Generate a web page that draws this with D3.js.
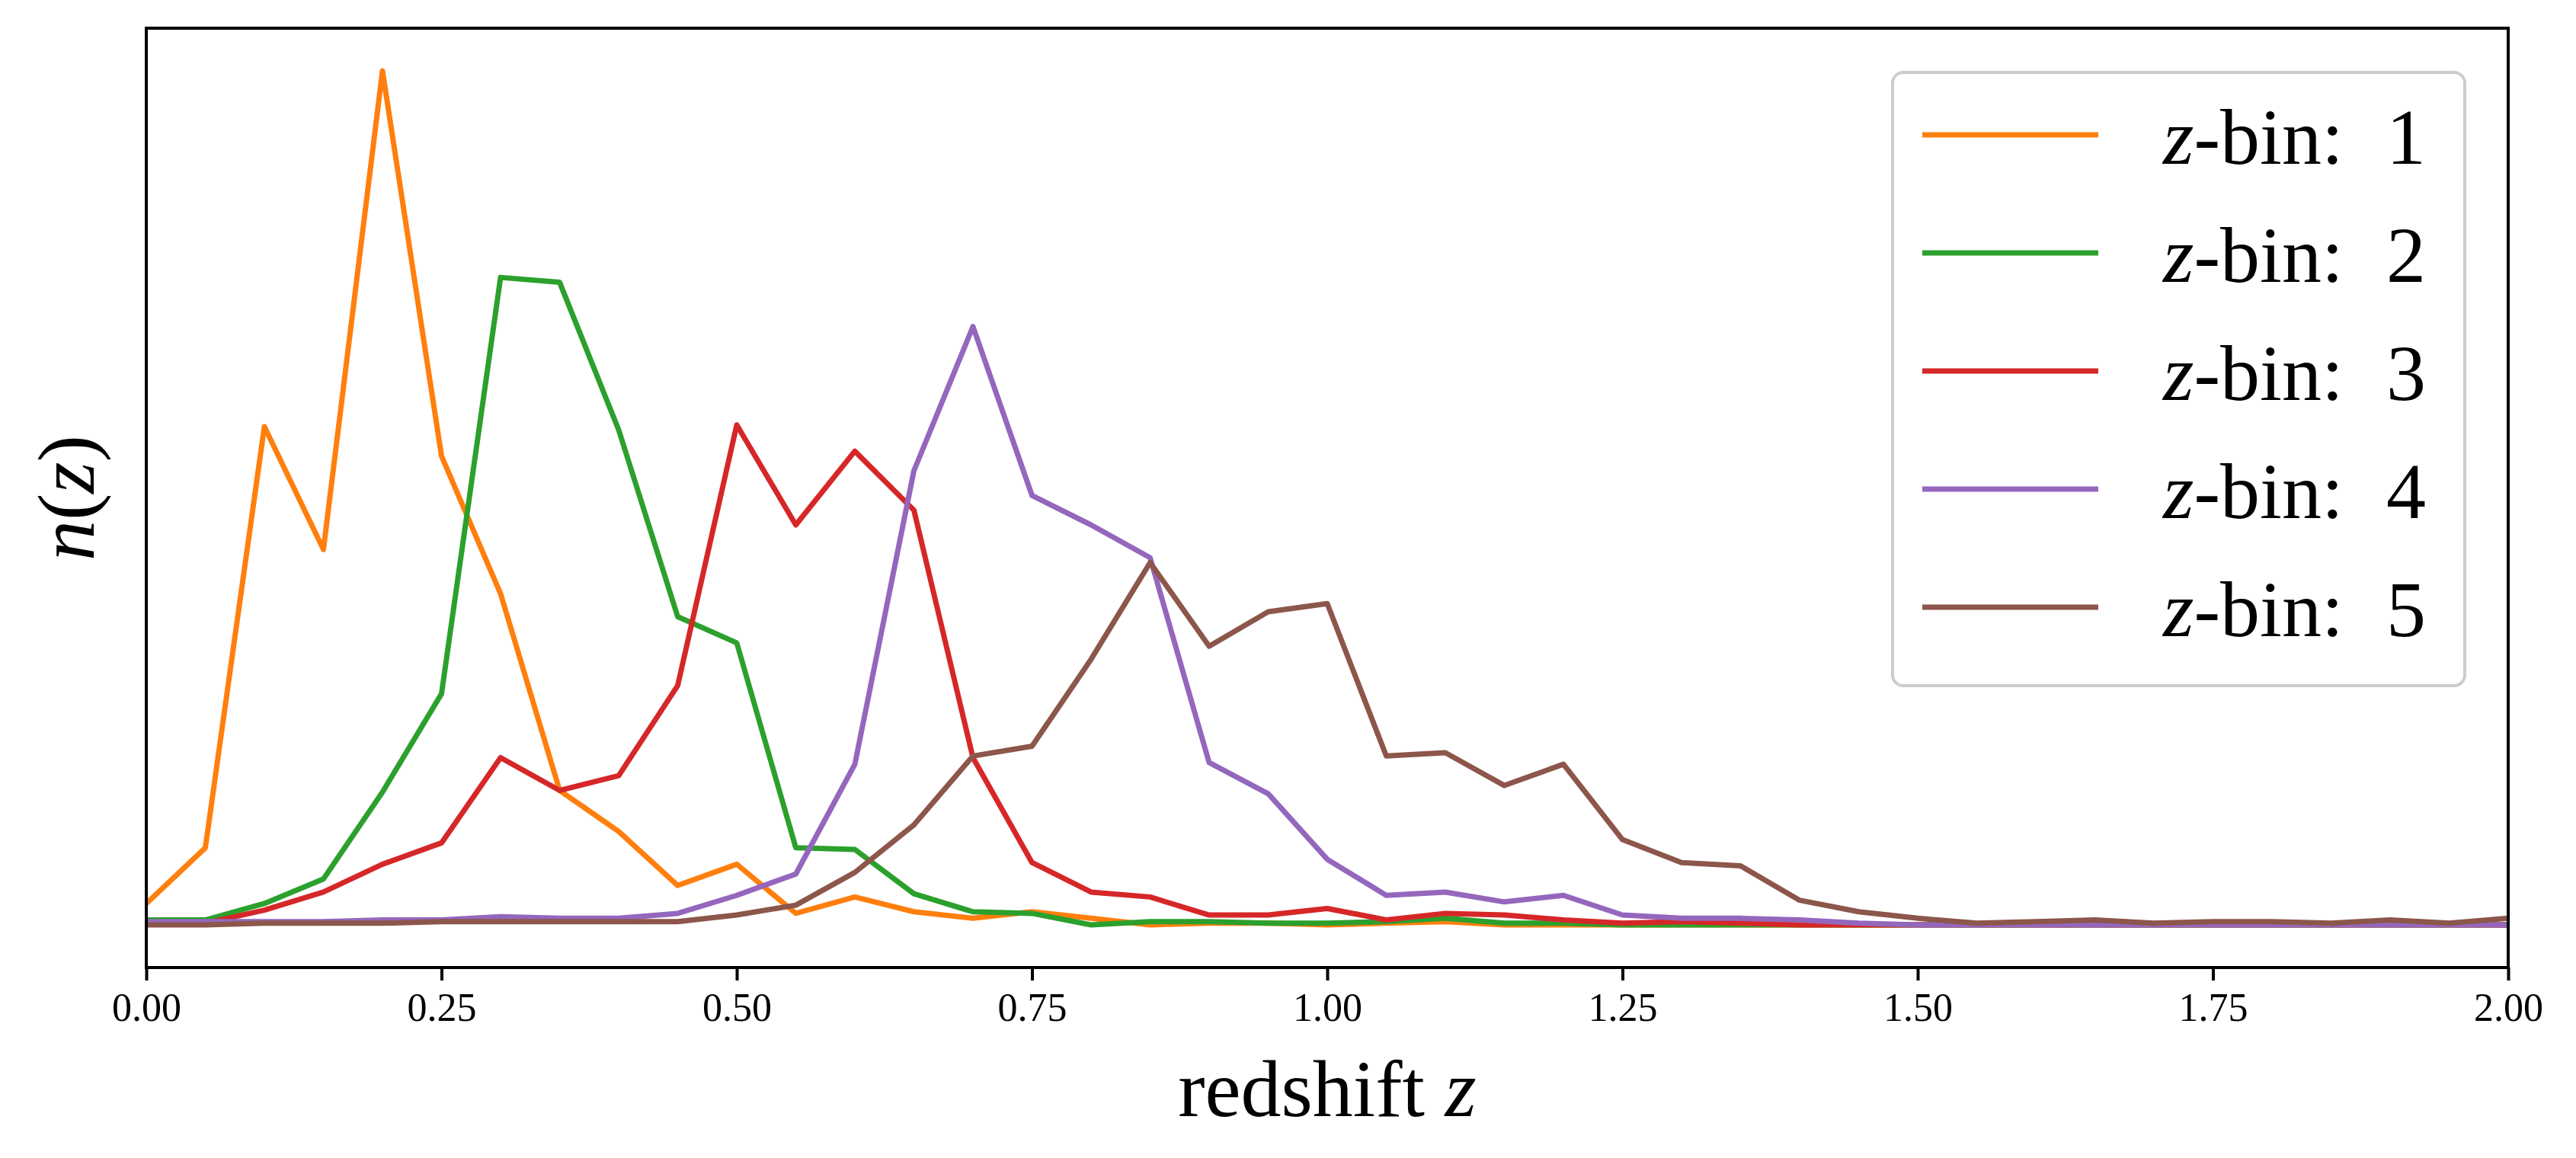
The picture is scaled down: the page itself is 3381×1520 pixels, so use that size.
<!DOCTYPE html>
<html>
<head>
<meta charset="utf-8">
<script src="https://cdn.jsdelivr.net/npm/d3@7"></script>
<style>
  html, body { margin: 0; padding: 0; background: #fff; }
  text { font-family: "Liberation Serif", "Times New Roman", serif; fill: #000; }
</style>
</head>
<body>
<div id="chart"></div>
<script>
// redshift grid
const zGrid = [0.00, 0.05, 0.10, 0.15, 0.20, 0.25, 0.30, 0.35, 0.40, 0.45,
  0.50, 0.55, 0.60, 0.65, 0.70, 0.75, 0.80, 0.85, 0.90, 0.95,
  1.00, 1.05, 1.10, 1.15, 1.20, 1.25, 1.30, 1.35, 1.40, 1.45,
  1.50, 1.55, 1.60, 1.65, 1.70, 1.75, 1.80, 1.85, 1.90, 1.95, 2.00];

const bin1 = [0.13, 0.47, 3.04, 2.29, 5.21, 2.86, 2.02, 0.82, 0.57, 0.24,
  0.37, 0.07, 0.17, 0.08, 0.04, 0.08, 0.04, 0.00, 0.01, 0.01,
  0.00, 0.01, 0.02, 0.00, 0.00, 0.00, 0.00, 0.00, 0.00, 0.00,
  0.00, 0.00, 0.00, 0.00, 0.00, 0.00, 0.00, 0.00, 0.00, 0.00, 0.00];
const bin2 = [0.03, 0.03, 0.13, 0.28, 0.81, 1.41, 3.95, 3.92, 3.02, 1.88,
  1.72, 0.47, 0.46, 0.19, 0.08, 0.07, 0.00, 0.02, 0.02, 0.01,
  0.01, 0.02, 0.04, 0.01, 0.01, 0.00, 0.00, 0.00, 0.00, 0.00,
  0.00, 0.00, 0.00, 0.00, 0.00, 0.00, 0.00, 0.00, 0.00, 0.00, 0.00];
const bin3 = [0.01, 0.01, 0.09, 0.20, 0.37, 0.50, 1.02, 0.82, 0.91, 1.46,
  3.05, 2.44, 2.89, 2.53, 1.02, 0.38, 0.20, 0.17, 0.06, 0.06,
  0.10, 0.03, 0.07, 0.06, 0.03, 0.01, 0.02, 0.01, 0.00, 0.00,
  0.00, 0.00, 0.00, 0.00, 0.00, 0.00, 0.00, 0.00, 0.00, 0.00, 0.00];
const bin4 = [0.02, 0.02, 0.02, 0.02, 0.03, 0.03, 0.05, 0.04, 0.04, 0.07,
  0.18, 0.31, 0.98, 2.77, 3.65, 2.62, 2.44, 2.24, 0.99, 0.80,
  0.40, 0.18, 0.20, 0.14, 0.18, 0.06, 0.04, 0.04, 0.03, 0.01,
  0.00, 0.00, 0.00, 0.00, 0.00, 0.00, 0.00, 0.00, 0.00, 0.00, 0.00];
const bin5 = [0.00, 0.00, 0.01, 0.01, 0.01, 0.02, 0.02, 0.02, 0.02, 0.02,
  0.06, 0.12, 0.32, 0.61, 1.03, 1.09, 1.62, 2.21, 1.70, 1.91,
  1.96, 1.03, 1.05, 0.85, 0.98, 0.52, 0.38, 0.36, 0.15, 0.08,
  0.04, 0.01, 0.02, 0.03, 0.01, 0.02, 0.02, 0.01, 0.03, 0.01, 0.04];

const binLabels = ["1", "2", "3", "4", "5"];
const binColors = ["#ff7f0e", "#2ca02c", "#d62728", "#9467bd", "#8c564b"];
const xTicks = [0, 0.25, 0.5, 0.75, 1.0, 1.25, 1.5, 1.75, 2.0];

const series = [bin1, bin2, bin3, bin4, bin5].map((vals, i) => ({
  label: binLabels[i],
  color: binColors[i],
  points: zGrid.map((z, j) => ({ z: z, n: vals[j] }))
}));

const W = 3381, H = 1520;
const margin = { top: 37, right: 89, bottom: 250, left: 192 };
const width = W - margin.left - margin.right;
const height = H - margin.top - margin.bottom;

const svgEl = d3.select("#chart")
  .append("svg")
  .attr("width", W)
  .attr("height", H);

const svg = svgEl.append("g")
  .attr("transform", `translate(${margin.left},${margin.top})`);

// matplotlib-style 5% margins on y
const allN = series.flatMap(s => s.points.map(p => p.n));
const yMin = d3.min(allN), yMax = d3.max(allN);
const pad = (yMax - yMin) * 0.05;

const x = d3.scaleLinear().domain([0, 2]).range([0, width]);
const y = d3.scaleLinear().domain([yMin - pad, yMax + pad]).range([height, 0]);

svg.append("clipPath").attr("id", "plot-clip")
  .append("rect").attr("width", width).attr("height", height);

const line = d3.line()
  .x(d => x(d.z))
  .y(d => y(d.n));

svg.append("g")
  .attr("clip-path", "url(#plot-clip)")
  .selectAll("path")
  .data(series)
  .enter().append("path")
  .attr("d", d => line(d.points))
  .attr("fill", "none")
  .attr("stroke", d => d.color)
  .attr("stroke-width", 7)
  .attr("stroke-linejoin", "round")
  .attr("stroke-linecap", "square");

// x axis
const gx = svg.append("g")
  .attr("transform", `translate(0,${height})`)
  .call(d3.axisBottom(x)
    .tickValues(xTicks)
    .tickFormat(d3.format(".2f"))
    .tickSize(17)
    .tickPadding(16));
gx.select(".domain").remove();
gx.selectAll(".tick line").attr("stroke", "#000").attr("stroke-width", 4);
gx.selectAll(".tick text")
  .attr("font-size", 52)
  .attr("font-family", "Liberation Serif, serif")
  .attr("fill", "#000");

// frame
svg.append("rect")
  .attr("width", width)
  .attr("height", height)
  .attr("fill", "none")
  .attr("stroke", "#000")
  .attr("stroke-width", 4);

// axis labels
const xl = svg.append("text")
  .attr("x", width / 2)
  .attr("y", 1428)
  .attr("text-anchor", "middle")
  .attr("font-size", 106);
xl.append("tspan").text("redshift ");
xl.append("tspan").attr("font-style", "italic").text("z");

const yl = svg.append("text")
  .attr("transform", `translate(${123 - margin.left},${height / 2}) rotate(-90)`)
  .attr("text-anchor", "middle")
  .attr("font-size", 106);
yl.append("tspan").attr("font-style", "italic").text("n");
yl.append("tspan").text("(");
yl.append("tspan").attr("font-style", "italic").text("z");
yl.append("tspan").text(")");

// legend
const lg = svg.append("g")
  .attr("transform", `translate(${2484 - margin.left},${95 - margin.top})`);
lg.append("rect")
  .attr("width", 751)
  .attr("height", 805)
  .attr("rx", 14)
  .attr("fill", "#fff")
  .attr("fill-opacity", 0.8)
  .attr("stroke", "#cccccc")
  .attr("stroke-width", 4);

const rows = lg.selectAll("g.row")
  .data(series)
  .enter().append("g")
  .attr("class", "row")
  .attr("transform", (d, i) => `translate(0,${82 + i * 155})`);

rows.append("line")
  .attr("x1", 39).attr("x2", 270)
  .attr("y1", 0).attr("y2", 0)
  .attr("stroke", d => d.color)
  .attr("stroke-width", 7);

const lt = rows.append("text")
  .attr("x", 355)
  .attr("y", 38)
  .attr("font-size", 104);
lt.append("tspan").attr("font-style", "italic").text("z");
lt.append("tspan").text("-bin:");
lt.append("tspan").attr("dx", 56).text(d => d.label);
</script>
</body>
</html>
